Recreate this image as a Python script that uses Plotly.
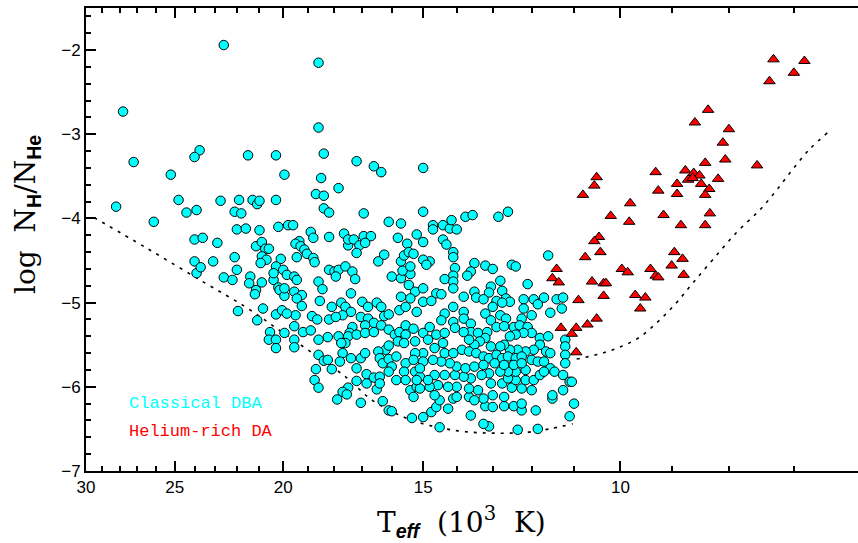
import plotly.graph_objects as go
import math

# ---- data: Classical DBA (Teff in 10^3 K, log H/He) ----
dba_teff = [
22.6,18.6,27.8,18.6,27.2,23.75,24.0,21.5,20.3,18.4,25.2,19.95,18.5,17.2,16.6,16.35,15.0,17.85,28.2,24.8,
22.75,21.9,21.3,21.1,21.0,20.3,18.7,18.4,18.4,18.2,26.1,24.4,23.9,22.1,21.8,16.95,15.0,22.0,21.6,21.0,
20.2,19.8,19.6,18.9,18.8,24.0,23.6,22.9,18.2,17.65,17.5,17.5,17.3,17.1,16.95,16.7,16.9,16.1,15.7,15.8,
15.5,15.2,15.0,14.7,14.7,14.4,14.2,14.15,14.0,13.75,13.55,14.4,14.3,
12.85,12.6,14.1,14.1,14.8,13.5,13.2,13.0,12.5,12.4,14.05,13.6,13.7,14.1,14.35,14.1,14.1,14.6,14.45,12.8,
13.05,13.1,13.5,12.75,12.1,11.6,13.8,13.45,13.25,12.9,12.65,12.55,11.95,11.7,11.85,11.4,11.25,
11.28,12.2,
21.15,20.9,20.75,20.6,20.9,20.7,20.95,20.1,22.1,24.0,23.1,23.9,23.7,22.0,22.6,22.2,21.4,21.45,21.15,21.2,
20.9,20.4,20.3,20.4,20.2,20.15,20.0,19.95,
21.95,21.1,20.85,20.55,20.6,20.3,20.3,20.3,20.05,
19.35,19.5,19.3,19.15,19.05,18.8,18.75,19.45,19.85,19.55,19.45,19.95,19.55,19.25,19.45,18.6,18.45,18.2,18.0,17.85,
17.95,17.6,17.35,17.25,17.4,17.2,16.45,16.25,16.0,15.7,15.4,15.65,15.4,15.7,15.6,15.45,15.3,15.0,14.9,15.45,
15.25,15.0,15.7,15.4,
19.25,19.5,19.85,19.55,19.2,18.9,19.55,19.55,19.95,18.85,18.55,18.65,18.2,18.1,17.75,17.6,17.4,17.7,17.95,17.0,
16.8,16.5,16.35,17.05,16.8,16.6,16.35,16.25,16.9,17.35,17.45,17.5,17.2,16.9,16.6,17.6,17.85,18.25,18.6,17.75,
17.7,17.4,17.8,17.05,16.9,18.6,18.4,18.25,18.7,18.1,17.2,16.85,18.75,18.6,17.2,17.5,17.7,17.9,17.55,17.05,
16.85,16.6,16.4,16.5,16.4,16.3,16.1,16.0,15.35,16.2,16.45,16.4,16.3,16.1,15.85,15.55,16.0,16.1,15.6,15.25,
15.85,15.55,15.1,15.4,15.2,15.3,15.1,16.1,15.9,15.75,15.55,15.3,15.55,15.8,15.6,15.25,16.1,15.0,15.0,15.25,
15.3,15.0,15.1,15.2,15.75,15.55,15.2,15.0,16.1,
14.75,14.35,14.1,13.8,13.8,14.1,14.45,14.05,13.6,13.6,13.8,13.4,13.15,13.2,13.0,12.75,12.8,12.65,13.05,12.9,
12.7,12.45,12.2,12.25,12.0,12.3,12.1,11.55,12.0,12.2,12.4,12.55,11.8,11.6,11.8,11.65,11.55,11.95,12.15,12.35,
12.55,12.7,12.8,13.05,13.2,13.35,13.5,13.65,13.85,13.65,13.45,13.25,13.1,12.9,12.75,12.6,12.4,12.25,12.0,11.85,
11.7,11.55,11.45,11.25,11.1,11.05,11.25,11.5,11.5,11.0,11.1,11.9,11.85,12.35,13.1,13.25,14.5,15.0,14.75,14.6,
14.25,14.5,14.1,14.0,13.65,13.6,13.2,13.0,12.7,12.45,12.25,12.25,12.7,13.0,13.25,13.5,13.4,13.65,14.0,14.25,
14.55,14.8,14.65,13.05,12.75,12.5,12.25,12.0,12.15,11.95,12.4,12.6,11.8,11.7,12.15,12.4,12.6,12.8,13.1,13.3,
13.6,13.8,14.05,14.35,14.65,14.85,14.0,13.75,13.5,13.25,12.95,12.7,12.45,12.25,14.2,14.45,14.7,14.35,14.1,14.65,
14.4,14.85,14.6,14.35,14.8,11.2,11.2,11.2,11.2,
]
dba_logh = [
-1.94,-2.15,-2.73,-2.92,-3.33,-3.19,-3.27,-3.25,-3.25,-3.23,-3.48,-3.48,-3.52,-3.32,-3.38,-3.45,-3.40,-3.64,-3.86,-3.78,
-3.79,-3.78,-3.78,-3.83,-3.79,-3.78,-3.71,-3.73,-3.88,-3.93,-4.04,-3.93,-3.90,-3.92,-3.94,-3.94,-3.92,-4.13,-4.12,-4.14,
-4.10,-4.08,-4.08,-4.16,-4.23,-4.25,-4.23,-4.29,-4.22,-4.18,-4.32,-4.25,-4.25,-4.32,-4.21,-4.21,-4.29,-4.04,-4.06,-4.23,
-4.30,-4.19,-4.28,-4.08,-4.13,-4.08,-4.12,-4.02,-4.13,-3.98,-3.96,-4.25,-4.31,
-3.98,-3.92,-4.40,-4.46,-4.51,-4.53,-4.56,-4.60,-4.55,-4.57,-4.59,-4.63,-4.68,-4.68,-4.72,-4.75,-4.83,-4.89,-4.90,-4.74,
-4.81,-4.88,-4.87,-4.86,-4.78,-4.44,-4.93,-4.94,-4.96,-4.98,-4.95,-4.99,-4.96,-4.94,-5.02,-4.96,-4.94,
-5.07,-4.96,
-4.33,-4.28,-4.36,-4.36,-4.45,-4.49,-4.53,-4.48,-4.46,-4.51,-4.51,-4.65,-4.58,-4.61,-4.70,-4.73,-4.69,-4.77,-4.85,-4.90,
-4.76,-4.73,-4.57,-4.65,-4.82,-4.85,-4.61,-4.92,
-5.10,-5.21,-5.07,-5.35,-5.44,-5.44,-5.54,-5.14,-5.09,
-4.27,-4.30,-4.33,-4.37,-4.42,-4.47,-4.52,-4.46,-4.67,-4.69,-4.73,-4.83,-4.87,-4.91,-4.95,-4.75,-4.84,-4.61,-4.63,-4.61,
-4.69,-4.57,-4.63,-4.72,-4.89,-4.41,-4.51,-4.43,-4.69,-4.71,-4.66,-4.62,-4.57,-4.51,-4.44,-4.40,-4.42,-4.49,-4.55,-4.79,
-4.87,-4.83,-4.93,-4.95,
-5.04,-5.15,-5.13,-5.28,-5.35,-5.33,-5.44,-5.53,-5.36,-5.16,-4.98,-5.20,-5.20,-5.05,-5.00,-5.05,-5.11,-5.15,-5.17,-4.99,
-5.05,-5.00,-5.05,-5.17,-5.19,-5.24,-5.27,-5.16,-5.27,-5.29,-5.36,-5.40,-5.38,-5.36,-5.35,-5.48,-5.40,-5.41,-5.44,-5.48,
-5.60,-5.66,-5.70,-5.66,-5.60,-5.62,-5.69,-5.68,-5.79,-5.79,-5.78,-5.85,-5.92,-6.01,-5.93,-6.01,-6.06,-6.15,-6.09,-6.19,
-5.96,-5.89,-5.88,-6.03,-5.96,-6.17,-6.28,-6.29,-6.37,-5.56,-5.58,-5.66,-5.72,-5.67,-5.64,-5.72,-5.76,-5.82,-5.82,-5.82,
-5.92,-5.92,-5.88,-6.04,-6.00,-6.12,-6.02,-5.32,-5.38,-5.35,-5.27,-5.31,-5.38,-5.46,-5.48,-5.46,-5.51,-5.36,-5.60,-5.60,
-5.68,-5.70,-5.78,-5.92,-5.09,-5.05,-5.11,-4.99,-5.14,
-4.98,-5.13,-5.05,-5.11,-5.19,-5.23,-5.21,-5.30,-5.25,-5.35,-5.35,-5.36,-5.35,-5.13,-5.05,-5.00,-5.15,-5.19,-5.21,-5.29,
-5.28,-5.29,-5.07,-5.19,-5.15,-5.27,-5.29,-5.12,-5.36,-5.36,-5.38,-5.40,-5.42,-5.40,-5.50,-5.58,-5.60,-5.56,-5.58,-5.56,
-5.56,-5.50,-5.52,-5.52,-5.42,-5.46,-5.50,-5.44,-5.56,-5.58,-5.60,-5.64,-5.66,-5.62,-5.66,-5.64,-5.66,-5.64,-5.68,-5.70,
-5.70,-5.78,-5.82,-5.86,-5.94,-5.94,-6.04,-6.14,-6.10,-6.20,-6.35,-6.28,-6.50,-6.51,-6.47,-6.44,-6.48,-6.36,-6.30,-6.24,
-6.26,-6.16,-6.14,-6.12,-6.12,-6.34,-6.23,-6.24,-6.23,-6.23,-6.28,-6.20,-6.12,-6.10,-6.14,-6.16,-6.04,-6.02,-6.00,-6.00,
-5.98,-6.00,-6.10,-5.96,-5.96,-6.01,-6.02,-6.04,-5.92,-5.92,-5.92,-5.90,-5.86,-5.82,-5.80,-5.82,-5.82,-5.82,-5.84,-5.86,
-5.90,-5.88,-5.86,-5.86,-5.86,-5.92,-5.76,-5.78,-5.76,-5.74,-5.72,-5.74,-5.74,-5.72,-5.72,-5.70,-5.68,-5.60,-5.60,-5.54,
-5.48,-5.44,-5.38,-5.36,-5.29,-5.44,-5.52,-5.62,-5.72,
]

# ---- data: Helium-rich DA ----
heda_teff = [7.3,6.85,7.0,7.36,8.35,8.58,8.0,8.1,8.06,8.4,7.55,9.3,8.75,8.6,8.5,8.7,8.62,8.18,8.9,8.47,
             8.33,8.4,9.25,8.9,10.5,10.55,10.8,9.8,10.2,9.82,9.15,8.83,8.32,8.4,10.45,10.55,10.42,10.75,11.4,11.5,
             11.35,10.6,10.35,10.3,10.35,10.9,11.3,10.95,11.05,10.7,10.5,10.95,9.97,9.85,9.4,9.3,9.25,9.0,8.95,8.8,
             8.78,9.7,9.5,9.6]
heda_logh = [-2.11,-2.13,-2.27,-2.37,-2.71,-2.86,-2.94,-3.10,-3.30,-3.34,-3.37,-3.45,-3.43,-3.46,-3.49,-3.54,-3.52,-3.53,-3.59,-3.59,
             -3.65,-3.72,-3.67,-3.71,-3.51,-3.61,-3.72,-3.82,-3.97,-4.04,-3.96,-4.08,-3.94,-4.08,-4.22,-4.27,-4.40,-4.46,-4.60,-4.71,
             -4.76,-4.75,-4.77,-4.77,-4.92,-4.97,-5.30,-5.30,-5.37,-5.26,-5.19,-5.59,-4.60,-4.64,-4.60,-4.68,-4.70,-4.56,-4.40,-4.48,
             -4.67,-4.91,-4.94,-5.07]

# ---- boundary curves ----
curve1_teff = [29.5, 26.5, 23.6, 21.56, 20.15, 18.83, 17.56, 16.65, 15.33, 14.01, 13.01, 12.13, 11.57, 11.03]
curve1_logh = [-3.99, -4.35, -4.75, -5.06, -5.33, -5.60, -5.89, -6.16, -6.40, -6.52, -6.55, -6.54, -6.50, -6.44]
curve2_teff = [10.94, 10.44, 10.02, 9.61, 9.23, 8.91, 8.62, 8.27, 7.88, 7.51, 7.25, 7.02, 6.78, 6.53]
curve2_logh = [-5.67, -5.61, -5.53, -5.41, -5.21, -5.00, -4.77, -4.49, -4.17, -3.90, -3.66, -3.42, -3.18, -2.98]

x_major = [30, 25, 20, 15, 10]
x_minor = [29, 28, 27, 26, 24, 23, 22, 21, 19, 18, 17, 16, 14, 13, 12, 11, 9, 8, 7]
y_major = [-7, -6, -5, -4, -3, -2]
y_minor = [round(-7 + 0.2 * i, 1) for i in range(28) if i % 5 != 0]

fig = go.Figure()
dot_line = dict(color="black", width=1.6, dash="3px,6px")
fig.add_trace(go.Scatter(x=curve1_teff, y=curve1_logh, mode="lines", line=dict(shape="spline", **dot_line), hoverinfo="skip"))
fig.add_trace(go.Scatter(x=curve2_teff, y=curve2_logh, mode="lines", line=dict(shape="spline", **dot_line), hoverinfo="skip"))
fig.add_trace(go.Scatter(x=dba_teff, y=dba_logh, mode="markers", name="Classical DBA",
                         marker=dict(symbol="circle", size=9.5, color="#00FFFF", line=dict(color="black", width=1))))
fig.add_trace(go.Scatter(x=heda_teff, y=heda_logh, mode="markers", name="Helium-rich DA",
                         marker=dict(symbol="triangle-up", size=10, color="#FF0000", line=dict(color="black", width=1))))

W, H = 858, 543
ml, mr, mt, mb = 86, 0, 8, 72
pw = W - ml - mr
x0 = math.log10(30)
x1 = x0 - pw / 1120.0

tickfont = dict(family="Liberation Sans, Arial, sans-serif", size=17, color="black")
fig.update_xaxes(type="log", range=[x0, x1], showgrid=False, zeroline=False,
                 showline=True, linecolor="black", linewidth=2, mirror="ticks",
                 ticks="inside", ticklen=10, tickwidth=1.5, tickcolor="black",
                 tickvals=x_major, ticktext=[str(v) for v in x_major], tickfont=tickfont,
                 minor=dict(tickvals=x_minor, ticks="inside", ticklen=5, tickwidth=1.5, tickcolor="black", showgrid=False))
fig.update_yaxes(range=[-7, -1.5], showgrid=False, zeroline=False,
                 showline=True, linecolor="black", linewidth=2, mirror=False,
                 ticks="inside", ticklen=10, tickwidth=1.5, tickcolor="black",
                 tickvals=y_major, ticktext=["\u2212" + str(abs(v)) for v in y_major], tickfont=tickfont,
                 minor=dict(tickvals=y_minor, ticks="inside", ticklen=5, tickwidth=1.5, tickcolor="black", showgrid=False))

sans_b = "font-family:'Liberation Sans',Arial,sans-serif;font-weight:bold"
ann = []
ann.append(dict(text="log  N<sub><span style=\"%s\">H</span></sub>/N<sub><span style=\"%s\">He</span></sub>" % (sans_b, sans_b),
                xref="paper", yref="paper", x=(27 - ml) / pw, y=(H - mb - 215) / (H - mt - mb),
                xanchor="center", yanchor="middle", textangle=-90, showarrow=False,
                font=dict(family="DejaVu Serif, serif", size=28, color="black")))
ann.append(dict(text="T<sub><span style=\"%s;font-style:italic\">eff</span></sub>  (10<sup>3</sup>  K)" % sans_b,
                xref="paper", yref="paper", x=(461 - ml) / pw, y=(H - mb - 522) / (H - mt - mb),
                xanchor="center", yanchor="middle", showarrow=False,
                font=dict(family="DejaVu Serif, serif", size=28, color="black")))
ann.append(dict(text="Classical DBA", xref="paper", yref="paper", x=(127 - ml) / pw, y=(H - mb - 403) / (H - mt - mb),
                xanchor="left", yanchor="middle", showarrow=False,
                font=dict(family="Liberation Mono, monospace", size=17, color="#00FFFF")))
ann.append(dict(text="Helium-rich DA", xref="paper", yref="paper", x=(127 - ml) / pw, y=(H - mb - 431) / (H - mt - mb),
                xanchor="left", yanchor="middle", showarrow=False,
                font=dict(family="Liberation Mono, monospace", size=17, color="#FF0000")))

fig.update_layout(width=W, height=H, margin=dict(l=ml, r=mr, t=mt, b=mb),
                  paper_bgcolor="white", plot_bgcolor="white", showlegend=False, annotations=ann)
fig.write_html("out.html")
